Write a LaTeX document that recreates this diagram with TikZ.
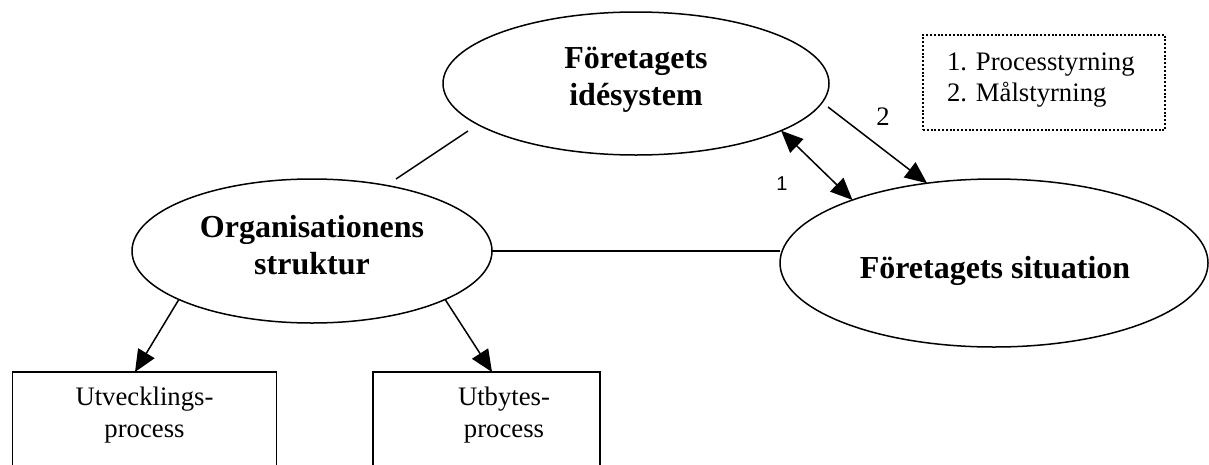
\documentclass[tikz,border=0pt]{standalone}
\usepackage{fontspec}
\setmainfont{Liberation Serif}
\newfontfamily\arialfont{Liberation Sans}
\usetikzlibrary{arrows.meta,shapes.geometric}
\begin{document}
\begin{tikzpicture}[x=1pt,y=-1pt,
  every node/.style={inner sep=0pt, outer sep=0pt},
  ell/.style={draw, ellipse, line width=1.5pt},
  lbl/.style={anchor=base, font=\fontsize{32}{37}\selectfont\bfseries},
  boxtxt/.style={anchor=base, font=\fontsize{26.7}{31}\selectfont},
  pbox/.style={draw, line width=1.5pt, rectangle},
  conn/.style={line width=1.5pt},
  arr/.style={line width=1.5pt, -{Triangle[length=22pt,width=19pt]}},
  darr/.style={line width=1.5pt, {Triangle[length=22pt,width=19pt]}-{Triangle[length=22pt,width=19pt]}},
  legbox/.style={draw, line width=1.8pt, dash pattern=on 2pt off 1.8pt},
]
\clip (0,0) rectangle (1209,464);

% ellipses
\node[ell, minimum width=386pt, minimum height=143pt] (ide) at (636,83.5) {};
\node[ell, minimum width=360pt, minimum height=144pt] (org) at (312,251) {};
\node[ell, minimum width=428pt, minimum height=168pt] (sit) at (994,263) {};

\node[lbl] (ide1) at (636,68) {Företagets};
\node[lbl] (ide2) at (636,105) {idésystem};
\node[lbl] (org1) at (312,237) {Organisationens};
\node[lbl] (org2) at (312,274) {struktur};
\node[lbl] (sit1) at (995,278) {Företagets situation};

% boxes
\node[pbox, minimum width=264pt, minimum height=110pt, anchor=north] (utv) at (144.7,372) {};
\node[pbox, minimum width=227pt, minimum height=110pt, anchor=north] (utb) at (486.5,372) {};
\node[boxtxt] (utv1) at (144.5,405) {Utvecklings-};
\node[boxtxt] (utv2) at (144.5,437) {process};
\node[boxtxt] (utb1) at (504,405) {Utbytes-};
\node[boxtxt] (utb2) at (504,437) {process};

% legend
\node[legbox, minimum width=242pt, minimum height=95pt, anchor=north west] (leg) at (923,35) {};
\node[boxtxt, anchor=base west] (leg1) at (947,70.7) {1. Processtyrning};
\node[boxtxt, anchor=base west] (leg2) at (947,101.7) {2. Målstyrning};

% labels
\node[anchor=base, font=\fontsize{26.7}{31}\selectfont] (n2) at (883,125) {2};
\node[anchor=base, font=\arialfont\fontsize{20}{24}\selectfont] (n1) at (782,190) {1};

% connectors
\coordinate (l1) at (468,131);
\coordinate (l2) at (396,179);
\draw[conn] (l1) -- (l2);
\draw[conn] (org.east) -- (org.east -| sit.west);
\draw[darr] (ide.-18.5) -- (sit.156.8);
\coordinate (a2) at (828,107);
\draw[arr] (a2) -- (sit.130.2);
\draw[arr] (org.200.2) -- ([xshift=-9.7pt]utv.north);
\draw[arr] (org.-20.2) -- ([xshift=5.5pt]utb.north);
\end{tikzpicture}
\end{document}
